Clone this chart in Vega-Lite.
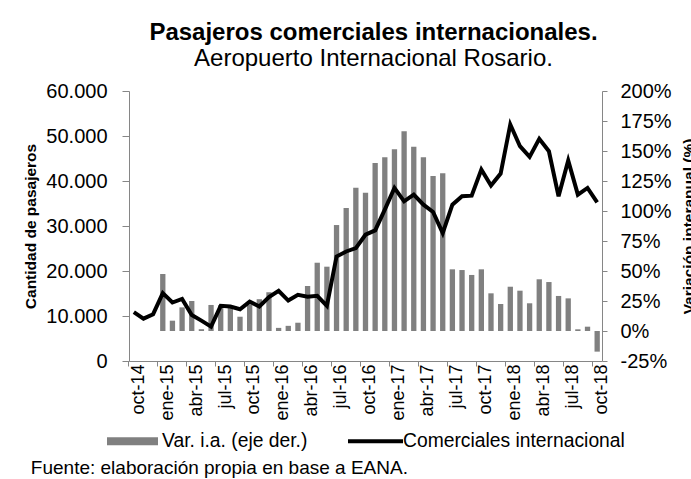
{
  "$schema": "https://vega.github.io/schema/vega-lite/v6.json",
  "padding": {"left": 23, "top": 21, "right": 0, "bottom": 0},
  "background": "white",
  "config": {
    "font": "Liberation Sans",
    "view": {"stroke": null},
    "axis": {"grid": false, "domainColor": "#868686", "tickColor": "#868686", "labelColor": "#000000", "titleColor": "#000000", "labelFont": "Liberation Sans", "titleFont": "Liberation Sans"},
    "legend": {"layout": {"bottom": {"anchor": "middle"}}}
  },
  "title": {"text": "Fuente: elaboración propia en base a EANA.", "orient": "bottom", "anchor": "start", "fontSize": 19, "fontWeight": "normal", "color": "#000000", "offset": 7, "dx": 7},
  "vconcat": [
    {
      "width": 473,
      "height": 270,
      "title": {"text": "Pasajeros comerciales internacionales.", "subtitle": "Aeropuerto Internacional Rosario.", "fontSize": 24, "subtitleFontSize": 24, "fontWeight": "bold", "color": "#000000", "subtitleColor": "#000000", "subtitlePadding": 2, "anchor": "middle", "offset": 10, "dx": 8},
      "data": {"values": [
        {"mes": "oct-14", "pax": 10850, "var": null},
        {"mes": "nov-14", "pax": 9420, "var": null},
        {"mes": "dic-14", "pax": 10400, "var": null},
        {"mes": "ene-15", "pax": 15080, "var": 47.5},
        {"mes": "feb-15", "pax": 12990, "var": 8.6},
        {"mes": "mar-15", "pax": 13800, "var": 19.7},
        {"mes": "abr-15", "pax": 10240, "var": 25},
        {"mes": "may-15", "pax": 8980, "var": 1.5},
        {"mes": "jun-15", "pax": 7640, "var": 21.7},
        {"mes": "jul-15", "pax": 12250, "var": 21.5},
        {"mes": "ago-15", "pax": 12100, "var": 19.5},
        {"mes": "sep-15", "pax": 11500, "var": 11.9},
        {"mes": "oct-15", "pax": 13200, "var": 21.7},
        {"mes": "nov-15", "pax": 12100, "var": 26.5},
        {"mes": "dic-15", "pax": 14190, "var": 32.3},
        {"mes": "ene-16", "pax": 15590, "var": 2.6},
        {"mes": "feb-16", "pax": 13430, "var": 4.3},
        {"mes": "mar-16", "pax": 14700, "var": 6.9},
        {"mes": "abr-16", "pax": 14300, "var": 37.5},
        {"mes": "may-16", "pax": 14500, "var": 56.9},
        {"mes": "jun-16", "pax": 12250, "var": 53.6},
        {"mes": "jul-16", "pax": 23230, "var": 88.3},
        {"mes": "ago-16", "pax": 24340, "var": 102.5},
        {"mes": "sep-16", "pax": 25100, "var": 119.4},
        {"mes": "oct-16", "pax": 28060, "var": 115.3},
        {"mes": "nov-16", "pax": 29020, "var": 140},
        {"mes": "dic-16", "pax": 33630, "var": 144.7},
        {"mes": "ene-17", "pax": 38460, "var": 151.4},
        {"mes": "feb-17", "pax": 35480, "var": 166.4},
        {"mes": "mar-17", "pax": 36970, "var": 153.6},
        {"mes": "abr-17", "pax": 34740, "var": 144.7},
        {"mes": "may-17", "pax": 33120, "var": 129.2},
        {"mes": "jun-17", "pax": 28440, "var": 131.4},
        {"mes": "jul-17", "pax": 34740, "var": 51.4},
        {"mes": "ago-17", "pax": 36600, "var": 50.8},
        {"mes": "sep-17", "pax": 36750, "var": 46.7},
        {"mes": "oct-17", "pax": 42540, "var": 51.4},
        {"mes": "nov-17", "pax": 38980, "var": 31.4},
        {"mes": "dic-17", "pax": 41650, "var": 22.5},
        {"mes": "ene-18", "pax": 52560, "var": 36.9},
        {"mes": "feb-18", "pax": 47730, "var": 33.6},
        {"mes": "mar-18", "pax": 45370, "var": 23.1},
        {"mes": "abr-18", "pax": 49380, "var": 43.1},
        {"mes": "may-18", "pax": 46620, "var": 40.8},
        {"mes": "jun-18", "pax": 36600, "var": 29.2},
        {"mes": "jul-18", "pax": 44540, "var": 27.2},
        {"mes": "ago-18", "pax": 36970, "var": 1.4},
        {"mes": "sep-18", "pax": 38460, "var": 3.6},
        {"mes": "oct-18", "pax": 35260, "var": -17.2}
      ]},
      "encoding": {
        "x": {
          "field": "mes", "type": "ordinal",
          "scale": {"paddingInner": 0, "paddingOuter": 0,
            "domain": ["oct-14","nov-14","dic-14","ene-15","feb-15","mar-15","abr-15","may-15","jun-15","jul-15","ago-15","sep-15","oct-15","nov-15","dic-15","ene-16","feb-16","mar-16","abr-16","may-16","jun-16","jul-16","ago-16","sep-16","oct-16","nov-16","dic-16","ene-17","feb-17","mar-17","abr-17","may-17","jun-17","jul-17","ago-17","sep-17","oct-17","nov-17","dic-17","ene-18","feb-18","mar-18","abr-18","may-18","jun-18","jul-18","ago-18","sep-18","oct-18"]},
          "axis": {
            "title": null,
            "labelExpr": "indexof(['oct','ene','abr','jul'], slice(datum.value, 0, 3)) >= 0 ? datum.value : ''",
            "tickOpacity": {"condition": {"test": "indexof(['oct','ene','abr','jul'], slice(datum.value, 0, 3)) >= 0", "value": 1}, "value": 0},
            "labelAngle": -90, "labelAlign": "right", "labelBaseline": "middle",
            "labelFontSize": 18, "bandPosition": 0, "labelOffset": 4.8, "tickSize": 5, "labelPadding": -2,
            "labelOverlap": false, "labelFlush": false, "labelBound": false
          }
        }
      },
      "layer": [
        {
          "mark": {"type": "bar", "width": {"band": 0.55}},
          "encoding": {
            "y": {
              "field": "var", "type": "quantitative",
              "scale": {"domain": [-25, 200], "nice": false},
              "axis": {
                "orient": "right",
                "values": [-25, 0, 25, 50, 75, 100, 125, 150, 175, 200],
                "labelExpr": "datum.value + '%'",
                "labelFontSize": 20, "tickSize": 5, "labelPadding": 13,
                "title": "Variación interanual (%)", "titleFontSize": 15.5, "titleFontWeight": "bold",
                "titleAngle": 270, "titleBaseline": "top", "titlePadding": 10
              }
            },
            "color": {
              "datum": "Var. i.a. (eje der.)",
              "scale": {"domain": ["Var. i.a. (eje der.)", "Comerciales internacional"], "range": ["#808080", "#000000"]},
              "legend": {
                "orient": "bottom", "direction": "horizontal", "title": null,
                "symbolType": "M-1,-0.4H4.1V0.4H-1Z", "symbolSize": 400, "symbolStrokeWidth": 0,
                "labelFontSize": 19.3, "labelColor": "#000000", "labelLimit": 400, "columnPadding": 40, "labelOffset": 35, "offset": 10,
                "encode": {"symbols": {"update": {
                  "shape": {"signal": "datum.value === 'Var. i.a. (eje der.)' ? 'M-1,-0.4H4.1V0.4H-1Z' : 'M-1,-0.2H4.5V0.2H-1Z'"},
                  "fill": {"signal": "datum.value === 'Var. i.a. (eje der.)' ? '#808080' : '#000000'"},
                  "strokeWidth": {"value": 0},
                  "opacity": {"value": 1}
                }}}
              }
            }
          }
        },
        {
          "mark": {"type": "line", "strokeWidth": 4},
          "encoding": {
            "y": {
              "field": "pax", "type": "quantitative",
              "scale": {"domain": [0, 60000], "nice": false},
              "axis": {
                "orient": "left",
                "values": [0, 10000, 20000, 30000, 40000, 50000, 60000],
                "labelExpr": "replace(format(datum.value, ','), ',', '.')",
                "labelFontSize": 20, "tickSize": 7, "labelPadding": 15,
                "title": "Cantidad de pasajeros", "titleFontSize": 15.5, "titleFontWeight": "bold", "titlePadding": 7
              }
            },
            "color": {"datum": "Comerciales internacional"}
          }
        }
      ],
      "resolve": {"scale": {"y": "independent"}}
    }
  ]
}
